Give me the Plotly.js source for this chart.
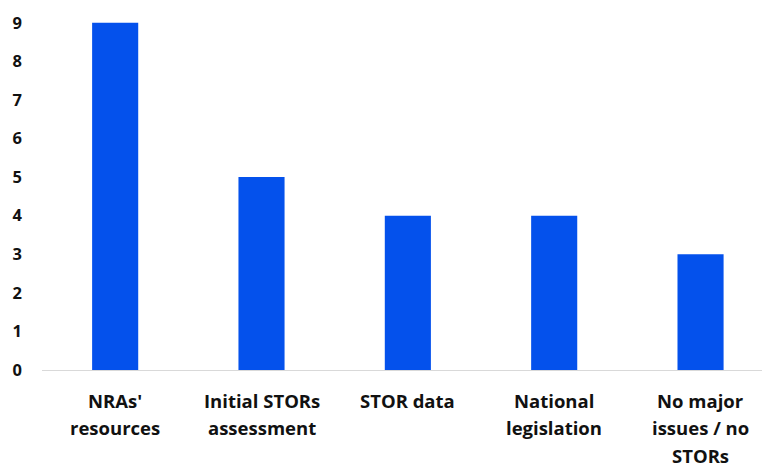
<!DOCTYPE html>
<html>
<head>
<meta charset="utf-8">
<script src="https://cdn.plot.ly/plotly-3.0.1.min.js"></script>
<style>
  html, body { margin: 0; padding: 0; background: #ffffff; }
  #chart { width: 764px; height: 465px; }
</style>
</head>
<body>
<div id="chart"></div>
<script>
// Issue categories, each split into the lines shown under the axis
const categories = ["NRAs' resources", "Initial STORs assessment", "STOR data", "National legislation", "No major issues / no STORs"];
const categoryLines = [
  ["NRAs'", "resources"],
  ["Initial STORs", "assessment"],
  ["STOR data"],
  ["National", "legislation"],
  ["No major", "issues / no", "STORs"]
];
const counts = [9, 5, 4, 4, 3];
const yTicks = [0, 1, 2, 3, 4, 5, 6, 7, 8, 9];

const labelFont = { family: "Open Sans, Liberation Sans, Arial, sans-serif", size: 18.5, color: "#111111", weight: "bold" };

const annotations = [];
categoryLines.forEach((lines, i) => {
  lines.forEach((line, j) => {
    annotations.push({
      x: categories[i], y: 0, xref: "x", yref: "y",
      text: "<b>" + line + "</b>",
      showarrow: false,
      xanchor: "center", yanchor: "middle",
      borderpad: 0,
      yshift: -30 - j * 27.5,
      font: labelFont
    });
  });
});

const trace = {
  type: "bar",
  x: categories,
  y: counts,
  width: 0.315,
  marker: { color: "#0451EC" },
  hoverinfo: "x+y"
};

const layout = {
  width: 764, height: 465,
  margin: { l: 42, r: 2, t: 15, b: 95 },
  paper_bgcolor: "#ffffff", plot_bgcolor: "#ffffff",
  showlegend: false,
  xaxis: {
    type: "category",
    range: [-0.5, 4.42],
    showticklabels: false,
    showgrid: false, zeroline: false,
    showline: true, linecolor: "#d9d9d9", linewidth: 1,
    ticks: ""
  },
  yaxis: {
    range: [0, 9.2],
    tickvals: yTicks,
    ticktext: yTicks.map(v => "<b>" + v + "</b>"),
    tickfont: { family: "Open Sans, Liberation Sans, Arial, sans-serif", size: 16.5, color: "#111111" },
    ticklabelstandoff: 19,
    showgrid: false, zeroline: false, showline: false,
    ticks: ""
  },
  annotations: annotations
};

Plotly.newPlot("chart", [trace], layout, { displayModeBar: false, staticPlot: true });
</script>
</body>
</html>
